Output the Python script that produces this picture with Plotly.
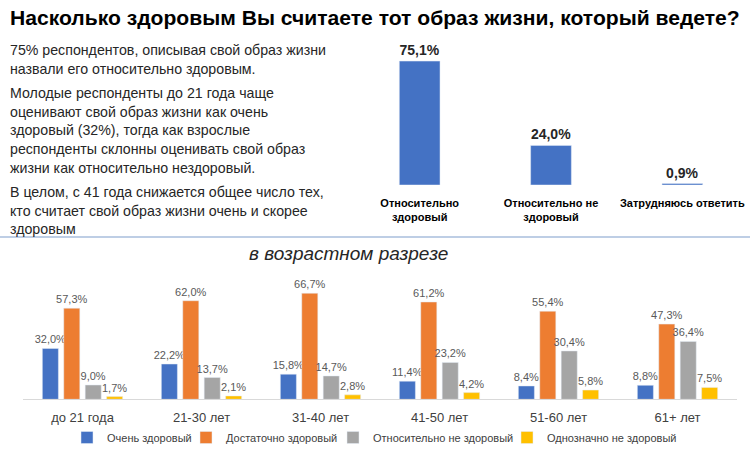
import plotly.graph_objects as go

# top chart: overall answers
top_categories = ["Относительно<br>здоровый", "Относительно не<br>здоровый", "Затрудняюсь ответить"]
top_values = [75.1, 24.0, 0.9]

# bottom chart: by age
age_groups = ["до 21 года", "21-30 лет", "31-40 лет", "41-50 лет", "51-60 лет", "61+ лет"]
very_healthy = [32.0, 22.2, 15.8, 11.4, 8.4, 8.8]
fairly_healthy = [57.3, 62.0, 66.7, 61.2, 55.4, 47.3]
rather_unhealthy = [9.0, 13.7, 14.7, 23.2, 30.4, 36.4]
definitely_unhealthy = [1.7, 2.1, 2.8, 4.2, 5.8, 7.5]

series_names = ["Очень здоровый", "Достаточно здоровый", "Относительно не здоровый", "Однозначно не здоровый"]
series_colors = ["#4472C4", "#ED7D31", "#A5A5A5", "#FFC000"]

title_text = "Насколько здоровым Вы считаете тот образ жизни, который ведете?"
subtitle_text = "в возрастном разрезе"
left_lines = [
    ["75% респондентов, описывая свой образ жизни",
     "назвали его относительно здоровым."],
    ["Молодые респонденты до 21 года чаще",
     "оценивают свой образ жизни как очень",
     "здоровый (32%), тогда как взрослые",
     "респонденты склонны оценивать свой образ",
     "жизни как относительно нездоровый."],
    ["В целом, с 41 года снижается общее число тех,",
     "кто считает свой образ жизни очень и скорее",
     "здоровым"],
]

W, H = 750, 452
FONT = "Liberation Sans, Arial"


def py(px):
    return 1 - px / H


fig = go.Figure()

fig.add_trace(go.Bar(
    x=top_categories, y=top_values, marker_color="#4472C4", width=0.31,
    texttemplate="%{y:.1f}%", textposition="outside", cliponaxis=False, constraintext="none",
    textfont=dict(size=14, color="#262626", family=FONT, weight="bold"),
    xaxis="x", yaxis="y", showlegend=False,
))

# one legend per series so the entries sit where they are in the original
legend_ids = ["legend", "legend2", "legend3", "legend4"]
legend_left = [67, 186, 333, 507]

for name, vals, col, lg in zip(series_names,
                               [very_healthy, fairly_healthy, rather_unhealthy, definitely_unhealthy],
                               series_colors, legend_ids):
    fig.add_trace(go.Bar(
        x=age_groups, y=vals, name=name, marker_color=col, legend=lg,
        texttemplate="%{y:.1f}%", textposition="outside", cliponaxis=False, constraintext="none",
        textfont=dict(size=11, color="#595959", family=FONT),
        xaxis="x2", yaxis="y2",
    ))

annotations = [
    dict(text="<b>" + title_text + "</b>", x=8 / W, y=py(18), xref="paper", yref="paper",
         xanchor="left", yanchor="middle", showarrow=False,
         font=dict(size=21.1, color="#000000", family=FONT)),
    dict(text=subtitle_text, x=348 / W, y=py(253), xref="paper", yref="paper",
         xanchor="center", yanchor="middle", showarrow=False,
         font=dict(size=19, color="#262626", family=FONT, style="italic")),
]

y = 50
for para in left_lines:
    for line in para:
        annotations.append(dict(text=line, x=8 / W, y=py(y), xref="paper", yref="paper",
                                xanchor="left", yanchor="middle", showarrow=False,
                                font=dict(size=14.2, color="#262626", family=FONT)))
        y += 18.7
    y += 5.5

legends = {}
for lg, left in zip(legend_ids, legend_left):
    legends[lg] = dict(orientation="h", x=left / W, xanchor="left", y=py(437.7), yanchor="middle",
                       font=dict(size=11, color="#404040", family=FONT),
                       bgcolor="rgba(0,0,0,0)", itemwidth=30)

fig.update_layout(
    width=W, height=H,
    margin=dict(l=0, r=0, t=0, b=0),
    paper_bgcolor="white", plot_bgcolor="white",
    separators=", ",
    font=dict(family=FONT, color="#595959"),
    barmode="group",
    xaxis=dict(domain=[354 / W, 748 / W], showline=False, showgrid=False, ticks="",
               tickangle=0, automargin=False, ticklabelstandoff=10,
               tickfont=dict(size=11, color="#000000", family=FONT, weight="bold"),
               fixedrange=True),
    yaxis=dict(domain=[py(185), py(53)], range=[0, 80], visible=False, fixedrange=True,
               automargin=False),
    xaxis2=dict(domain=[23 / W, 737 / W], anchor="y2", showline=True, linecolor="#D9D9D9",
                linewidth=1, showgrid=False, ticks="", tickangle=0, automargin=False,
                ticklabelstandoff=6,
                tickfont=dict(size=13, color="#404040", family=FONT), fixedrange=True),
    yaxis2=dict(domain=[py(399.3), py(288)], range=[0, 70], visible=False, anchor="x2",
                fixedrange=True, automargin=False),
    bargap=0.28, bargroupgap=0.25,
    annotations=annotations,
    shapes=[dict(type="line", xref="paper", yref="paper", x0=0, x1=1, y0=py(237), y1=py(237),
                 line=dict(color="#A9BEDC", width=1.5))],
    **legends,
)

# drop the default page margin so the figure starts at the window corner
fig.write_html("out.html", config={"displayModeBar": False},
               post_script="document.body.style.margin='0';")
